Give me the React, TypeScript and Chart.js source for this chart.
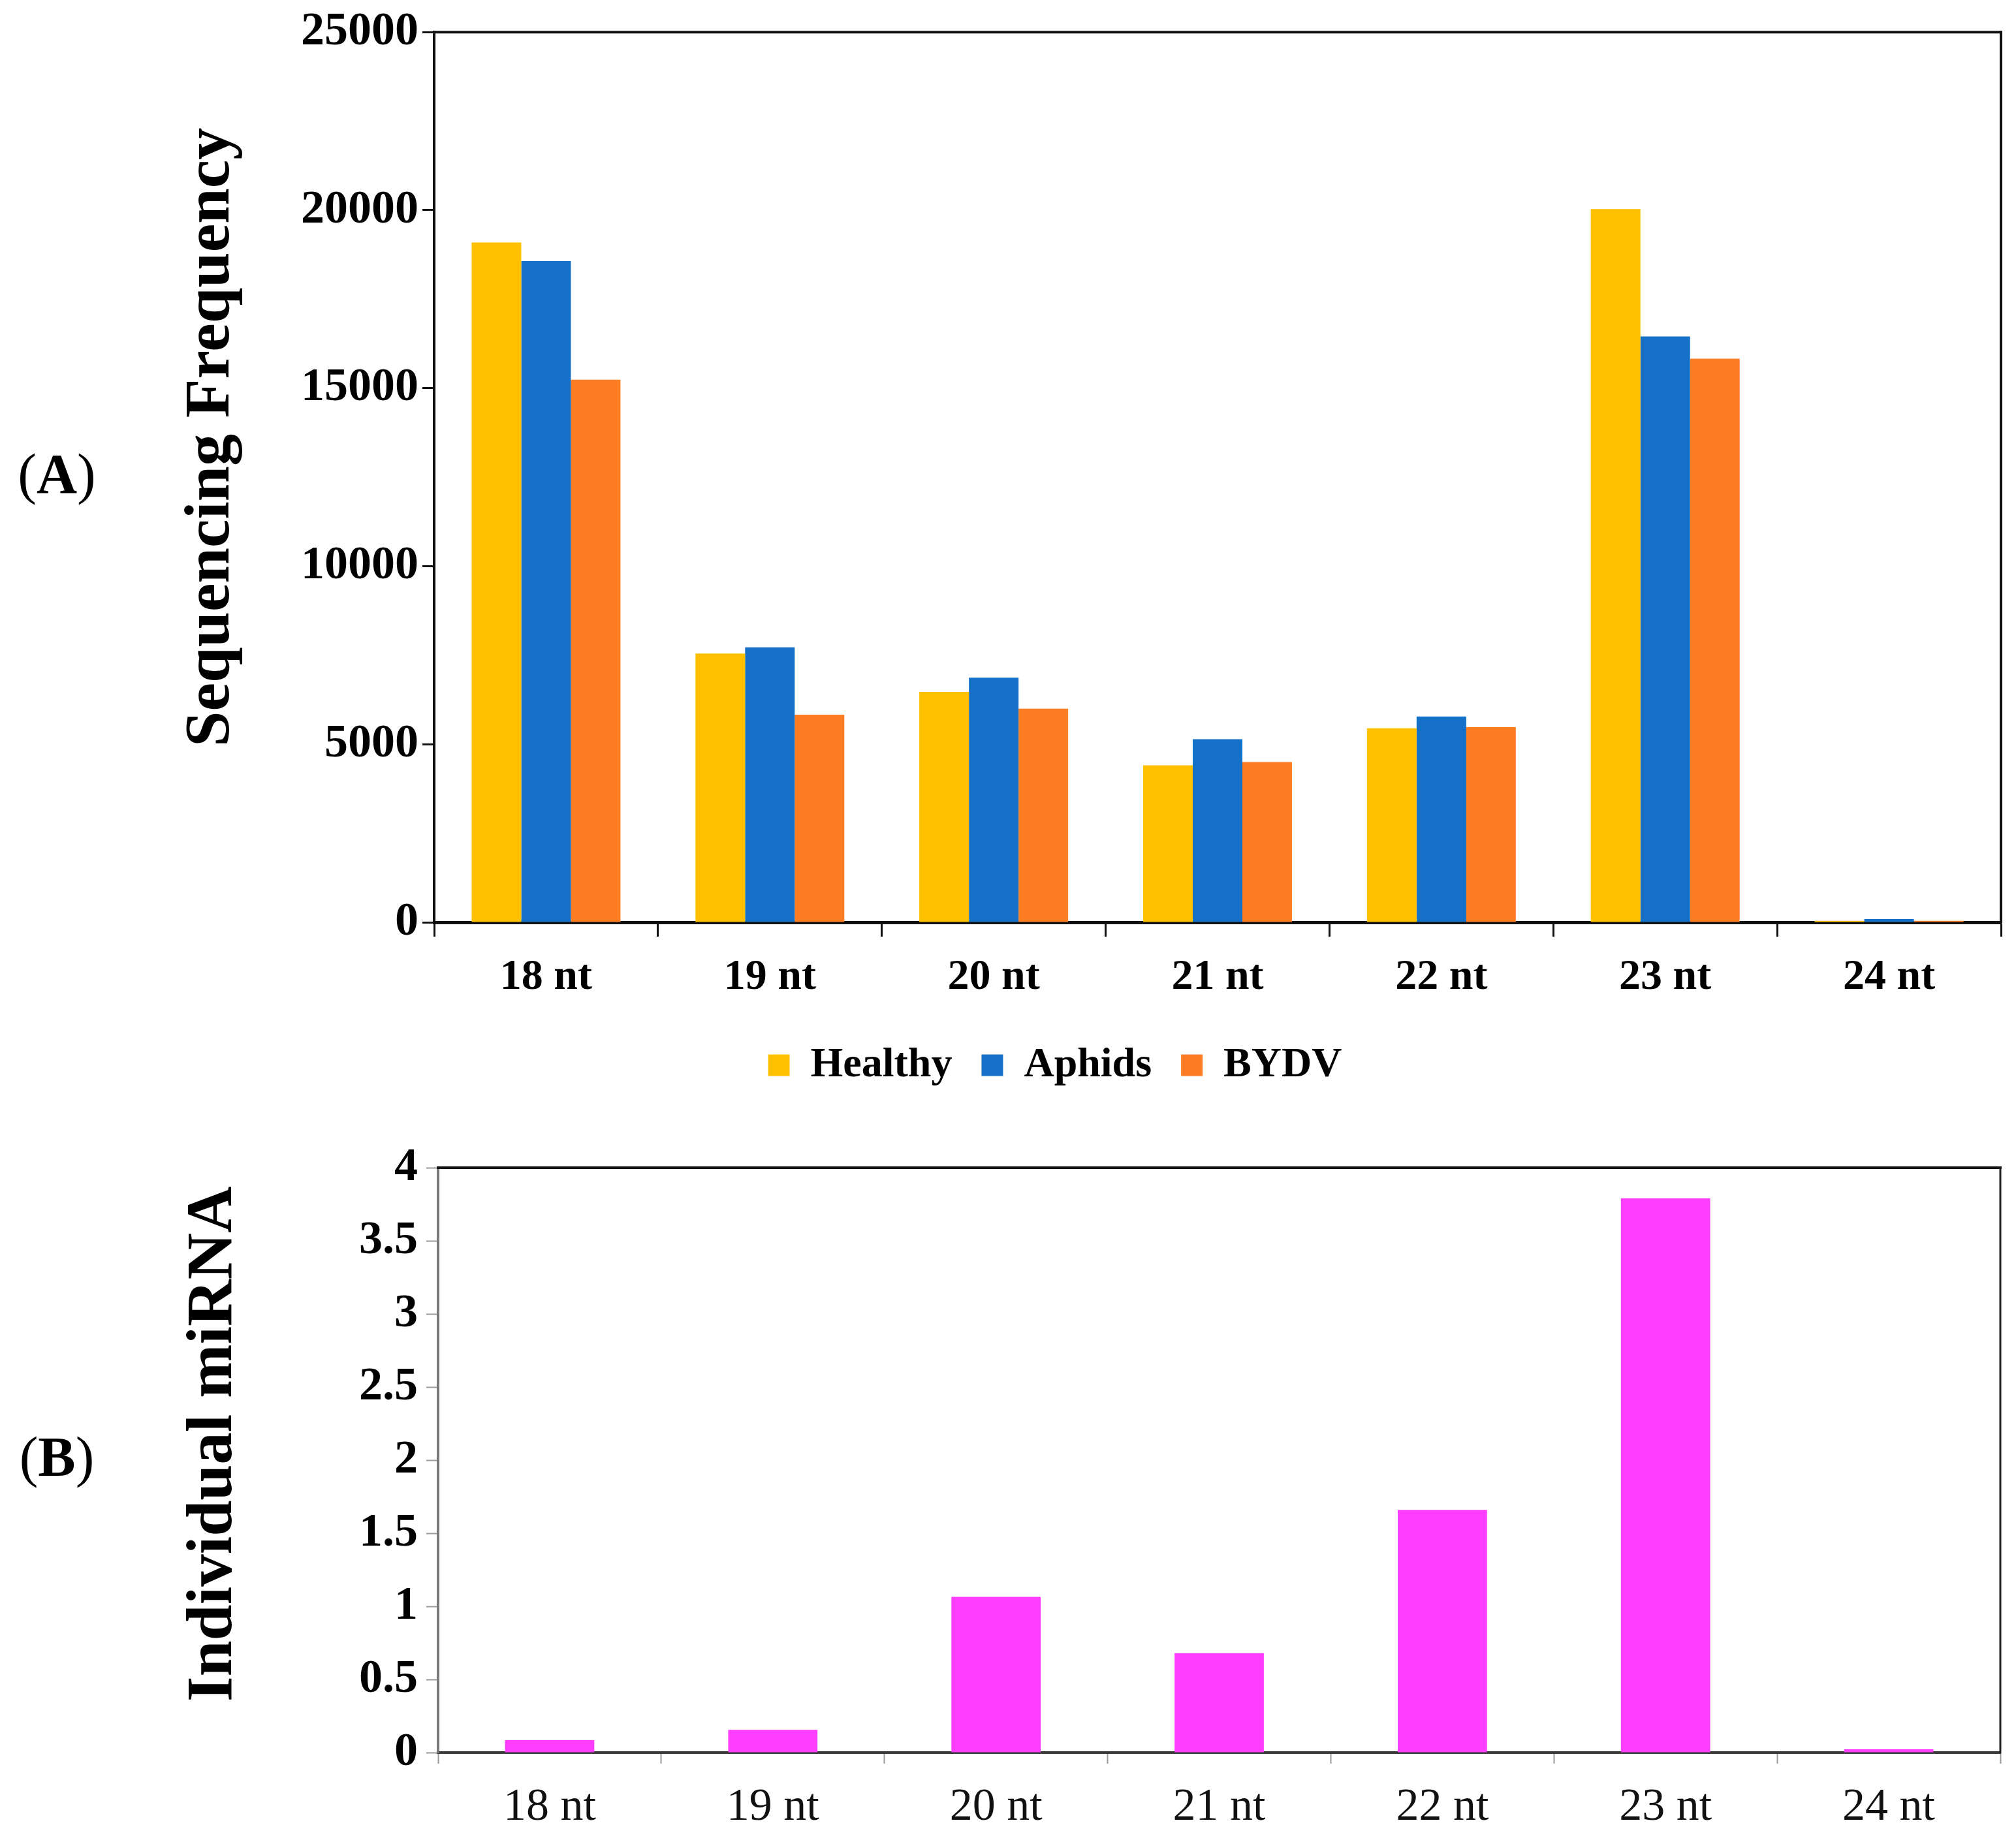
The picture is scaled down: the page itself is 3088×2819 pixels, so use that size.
import React, { useEffect, useRef } from "react";
import { Chart, registerables } from "chart.js";

Chart.register(...registerables);

const categories = ["18 nt", "19 nt", "20 nt", "21 nt", "22 nt", "23 nt", "24 nt"];
const seriesNames = ["Healthy", "Aphids", "BYDV"];
const healthy = [19090, 7550, 6470, 4410, 5450, 20030, 40];
const aphids = [18570, 7720, 6870, 5140, 5780, 16450, 90];
const bydv = [15240, 5830, 6000, 4500, 5480, 15830, 40];
const miRNA = [0.085, 0.155, 1.065, 0.68, 1.66, 3.79, 0.022];
const yTitleA = "     Sequencing Frequency";
const yTitleB = "  Individual miRNA";

const seriesColors = ["#FFC000", "#1570C8", "#FF7D22"];
const pink = "#FF3DFF";
const FONT = "'Liberation Serif', 'Times New Roman', serif";

const W = 3088;
const H1 = 1700;
const H2 = 1119;

const framePlugin = {
  id: "frame",
  afterDraw(chart: any, _args: any, opts: any) {
    const { ctx, chartArea } = chart;
    const { left, right, top, bottom } = chartArea;
    ctx.save();
    ctx.lineCap = "square";
    ctx.strokeStyle = opts.topColor;
    ctx.lineWidth = opts.topWidth;
    ctx.beginPath();
    ctx.moveTo(left, top);
    ctx.lineTo(right, top);
    ctx.stroke();
    ctx.strokeStyle = opts.rightColor;
    ctx.lineWidth = opts.rightWidth;
    ctx.beginPath();
    ctx.moveTo(right, top);
    ctx.lineTo(right, bottom);
    ctx.stroke();
    ctx.restore();
  },
};

function TopChart() {
  const ref = useRef<HTMLCanvasElement | null>(null);
  useEffect(() => {
    if (!ref.current) return;
    const data = [healthy, aphids, bydv];
    const chart = new Chart(ref.current, {
      type: "bar",
      data: {
        labels: categories,
        datasets: seriesNames.map((name, i) => ({
          label: name,
          data: data[i],
          backgroundColor: seriesColors[i],
          borderWidth: 0,
          categoryPercentage: 0.665,
          barPercentage: 1.0,
        })),
      },
      options: {
        responsive: false,
        animation: false,
        devicePixelRatio: 1,
        layout: { padding: { left: 167, right: 23, top: 45, bottom: 26 } },
        plugins: {
          legend: {
            display: true,
            position: "bottom",
            labels: {
              color: "#000",
              font: { family: FONT, size: 64, weight: "bold" },
              boxWidth: 33,
              boxHeight: 33,
              padding: 45,
            },
          },
          tooltip: { enabled: false },
          frame: { topColor: "#111", topWidth: 4, rightColor: "#111", rightWidth: 4 },
        } as any,
        scales: {
          x: {
            z: 1,
            offset: true,
            grid: {
              display: true,
              offset: true,
              drawOnChartArea: false,
              drawTicks: true,
              tickLength: 22,
              tickColor: "#111",
              tickWidth: 3,
            },
            border: { display: true, color: "#111", width: 5 },
            ticks: {
              color: "#000",
              font: { family: FONT, size: 66, weight: "bold" },
              padding: 23,
              maxRotation: 0,
              autoSkip: false,
            },
            afterFit: (scale: any) => {
              scale.height = 142;
            },
          },
          y: {
            z: 1,
            min: 0,
            max: 25000,
            grid: {
              display: true,
              drawOnChartArea: false,
              drawTicks: true,
              tickLength: 18,
              tickColor: "#111",
              tickWidth: 3,
            },
            border: { display: true, color: "#111", width: 4 },
            ticks: {
              stepSize: 5000,
              color: "#000",
              font: { family: FONT, size: 72, weight: "bold" },
              padding: 6,
              callback: (v: any) => String(v),
            },
            title: {
              display: true,
              text: yTitleA,
              color: "#000",
              font: { family: FONT, size: 98, weight: "bold" },
              padding: { top: 99, bottom: 0 },
            },
            afterFit: (scale: any) => {
              scale.width = 665 - 167;
            },
          },
        },
      },
      plugins: [framePlugin],
    } as any);
    return () => chart.destroy();
  }, []);
  return (
    <canvas
      ref={ref}
      width={W}
      height={H1}
      style={{ position: "absolute", left: 0, top: 0, width: W, height: H1, display: "block" }}
    />
  );
}

function BottomChart() {
  const ref = useRef<HTMLCanvasElement | null>(null);
  useEffect(() => {
    if (!ref.current) return;
    const chart = new Chart(ref.current, {
      type: "bar",
      data: {
        labels: categories,
        datasets: [
          {
            label: "Individual miRNA",
            data: miRNA,
            backgroundColor: pink,
            borderWidth: 0,
            categoryPercentage: 1.0,
            barPercentage: 0.4,
          },
        ],
      },
      options: {
        responsive: false,
        animation: false,
        devicePixelRatio: 1,
        layout: { padding: { left: 167, right: 24, top: 89, bottom: 14 } },
        plugins: {
          legend: { display: false },
          tooltip: { enabled: false },
          frame: { topColor: "#111", topWidth: 4, rightColor: "#222", rightWidth: 3 },
        } as any,
        scales: {
          x: {
            offset: true,
            grid: {
              display: true,
              offset: true,
              drawOnChartArea: false,
              drawTicks: true,
              tickLength: 17,
              tickColor: "#9a9a9a",
              tickWidth: 2,
            },
            border: { display: true, color: "#3a3a3a", width: 4 },
            ticks: {
              color: "#111",
              font: { family: FONT, size: 70, weight: "normal" },
              padding: 26,
              maxRotation: 0,
              autoSkip: false,
            },
            afterFit: (scale: any) => {
              scale.height = 120;
            },
          },
          y: {
            min: 0,
            max: 4,
            grid: {
              display: true,
              drawOnChartArea: false,
              drawTicks: true,
              tickLength: 18,
              tickColor: "#9a9a9a",
              tickWidth: 2,
            },
            border: { display: true, color: "#7a7a7a", width: 4 },
            ticks: {
              stepSize: 0.5,
              color: "#000",
              font: { family: FONT, size: 72, weight: "bold" },
              padding: 13,
              callback: (v: any) => String(v),
            },
            title: {
              display: true,
              text: yTitleB,
              color: "#000",
              font: { family: FONT, size: 99, weight: "bold" },
              padding: { top: 102, bottom: 0 },
            },
            afterFit: (scale: any) => {
              scale.width = 671 - 167;
            },
          },
        },
      },
      plugins: [framePlugin],
    } as any);
    return () => chart.destroy();
  }, []);
  return (
    <canvas
      ref={ref}
      width={W}
      height={H2}
      style={{ position: "absolute", left: 0, top: H1, width: W, height: H2, display: "block" }}
    />
  );
}

function PanelLabel({ letter, x, y }: { letter: string; x: number; y: number }) {
  return (
    <div
      style={{
        position: "absolute",
        left: x,
        top: y,
        transform: "translate(-50%, -50%)",
        fontFamily: FONT,
        fontSize: 86,
        lineHeight: 1,
        whiteSpace: "nowrap",
        color: "#000",
      }}
    >
      (<b>{letter}</b>)
    </div>
  );
}

export default function App() {
  return (
    <div
      style={{
        position: "absolute",
        left: 0,
        top: 0,
        width: W,
        height: H1 + H2,
        background: "#fff",
        overflow: "hidden",
      }}
    >
      <TopChart />
      <BottomChart />
      <PanelLabel letter="A" x={87} y={726} />
      <PanelLabel letter="B" x={87} y={2232} />
    </div>
  );
}
